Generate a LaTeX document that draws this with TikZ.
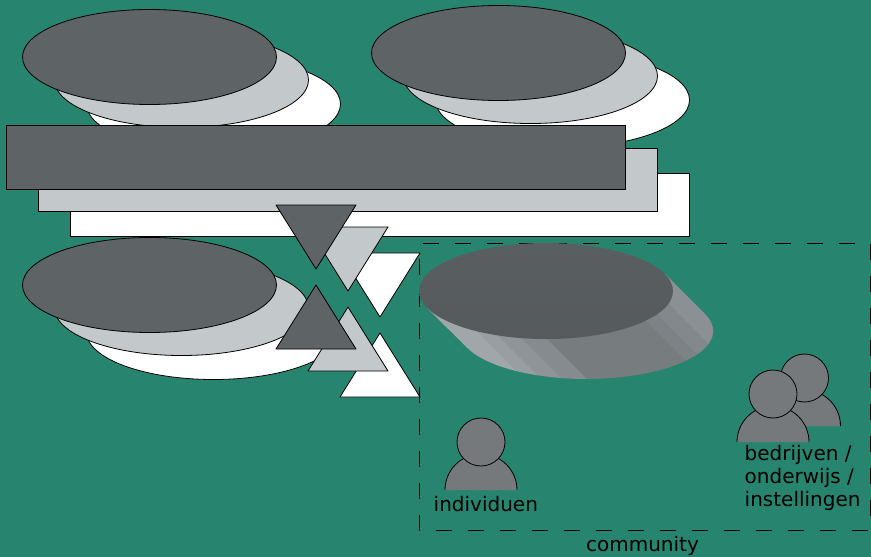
\documentclass[tikz,border=0pt]{standalone}
\usepackage{fontspec}
\setmainfont{DejaVu Sans}
\definecolor{bggreen}{HTML}{27856F}
\definecolor{darkgrey}{HTML}{5E6366}
\definecolor{lightgrey}{HTML}{C3C8CB}
\definecolor{persongrey}{HTML}{75797C}
\definecolor{bandA}{HTML}{A0A6A9}
\definecolor{bandB}{HTML}{989EA1}
\definecolor{bandC}{HTML}{8E9497}
\definecolor{bandD}{HTML}{858B8E}
\definecolor{bandE}{HTML}{777C7F}
\definecolor{bandF}{HTML}{7C8285}
\definecolor{bandG}{HTML}{82888B}
\definecolor{bandH}{HTML}{8A9093}
\tikzset{
    shapeline/.style={draw=black, line width=0.8pt},
    darkshape/.style={shapeline, fill=darkgrey},
    lightshape/.style={shapeline, fill=lightgrey},
    whiteshape/.style={shapeline, fill=white},
    persona/.style={draw=black, line width=0.8pt, fill=persongrey},
    caption/.style={inner sep=0pt, font=\fontsize{20}{23}\selectfont, text=black}
}
\begin{document}
\begin{tikzpicture}[x=1pt, y=-1pt]
    \useasboundingbox (0,0) rectangle (871,557);
    \fill[bggreen] (0,0) rectangle (871,557);

    % 1. Stacks of ellipses
    \foreach \cx/\cy in {149.5/57, 498.5/53, 149.5/285} {
        \draw[whiteshape] (\cx+64,\cy+47) ellipse (127 and 47.5);
        \draw[lightshape] (\cx+32,\cy+23) ellipse (127 and 47.5);
        \draw[darkshape] (\cx,\cy) ellipse (127 and 47.5);
    }

    % 2. Stacked bars
    \draw[whiteshape] (70,173) rectangle (689.5,236.5);
    \draw[lightshape] (38,148) rectangle (657.5,211.5);
    \draw[darkshape] (6,125) rectangle (625.5,189.5);

    % 3. Triangles, white at the back
    \foreach \dx/\dy/\sty in {64/48/whiteshape, 32/22/lightshape, 0/0/darkshape} {
        \draw[\sty, line join=round] (276+\dx,205+\dy) -- (356+\dx,205+\dy) -- (316+\dx,269+\dy) -- cycle;
        \draw[\sty, line join=round] (316+\dx,285+\dy) -- (356+\dx,349+\dy) -- (276+\dx,349+\dy) -- cycle;
    }

    % 4. Community frame
    \draw[line width=0.8pt, dash pattern=on 16pt off 16pt, dash phase=-4pt] (419,243) -- (870,243) -- (870,530) -- (419,530) -- cycle;

    % 5. Slanted disc
    \begin{scope}
        \clip (665,274) -- (705,314) arc (-20.7:159.3:127 and 48) -- (427,308) -- cycle;
        \foreach \ua/\ub/\col in {100/145/bandA, 145/162/bandB, 162/183/bandC, 183/208/bandD,
                                  208/325/bandE, 325/343/bandF, 343/365/bandG, 365/420/bandH} {
            \fill[\col] (200+\ua,200) -- (200+\ub+0.5,200) -- (420+\ub+0.5,420) -- (420+\ua,420) -- cycle;
        }
    \end{scope}
    \shade[top color=darkgrey!95!black, bottom color=darkgrey!91!black] (546,291) ellipse (127 and 48);

    % 6. Persons
    \foreach \px/\py in {804.5/426, 773/442, 481/490} {
        \fill[persongrey] (\px-36,\py) arc (180:360:36 and 36) -- cycle;
        \draw[persona, fill=none] (\px-36,\py) arc (180:360:36 and 36);
        \draw[persona] (\px,\py-48) circle (24);
    }

    % 7. Labels
    \node[caption, anchor=base west] (individuen) at (433.5,511) {individuen};
    \node[caption, anchor=base west, align=left] (organisaties) at (744.5,506) {bedrijven /\\onderwijs /\\instellingen};
    \node[caption, anchor=base] (community) at (642.5,551) {community};
\end{tikzpicture}
\end{document}
